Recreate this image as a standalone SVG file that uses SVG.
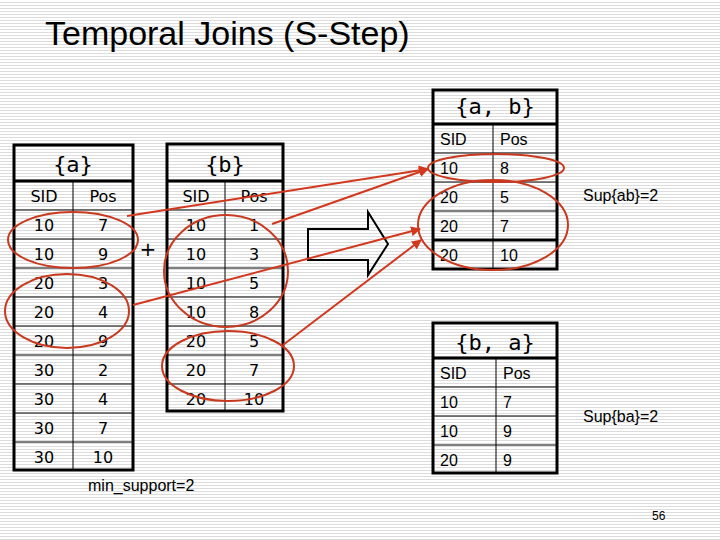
<svg xmlns="http://www.w3.org/2000/svg" width="720" height="540" viewBox="0 0 720 540">
<defs>
<pattern id="st" width="4" height="3" patternUnits="userSpaceOnUse"><rect width="4" height="3" fill="#fff"/><rect y="2" width="4" height="1" fill="#dcdcdc"/></pattern>
<marker id="ah" viewBox="0 0 10 10" refX="9" refY="5" markerWidth="5" markerHeight="5" orient="auto"><path d="M0,0L10,5L0,10z" fill="#d2381e"/></marker>
<style>
.t{fill:none;stroke:#000;stroke-width:3}
.l{stroke:#000;stroke-width:1}
.hd{font-family:"DejaVu Sans Mono",monospace;font-size:22px;text-anchor:middle}
.c{font-family:"DejaVu Sans",sans-serif;font-size:16px;text-anchor:middle}
.r{font-family:"Liberation Sans",sans-serif;font-size:16px}
.e{fill:none;stroke:#c8391f;stroke-width:2}
.a{stroke:#d2381e;stroke-width:2;marker-end:url(#ah)}
</style>
</defs>
<rect width="720" height="540" fill="url(#st)"/>
<text x="45" y="45" font-family="Liberation Sans,sans-serif" font-size="34">Temporal Joins (S-Step)</text>

<g id="ta">
<rect class="t" x="14" y="145" width="119" height="325"/>
<line class="t" x1="14" y1="181" x2="133" y2="181"/>
<line class="l" x1="73" y1="181" x2="73" y2="470"/>
<path class="l" d="M14,210H133M14,239H133M14,268H133M14,297H133M14,326H133M14,355H133M14,384H133M14,413H133M14,442H133"/>
<text class="hd" x="73" y="172">{a}</text>
<g class="c"><text x="44" y="202">SID</text><text x="103" y="202">Pos</text>
<text x="44" y="231">10</text><text x="103" y="231">7</text>
<text x="44" y="260">10</text><text x="103" y="260">9</text>
<text x="44" y="289">20</text><text x="103" y="289">3</text>
<text x="44" y="318">20</text><text x="103" y="318">4</text>
<text x="44" y="347">20</text><text x="103" y="347">9</text>
<text x="44" y="376">30</text><text x="103" y="376">2</text>
<text x="44" y="405">30</text><text x="103" y="405">4</text>
<text x="44" y="434">30</text><text x="103" y="434">7</text>
<text x="44" y="463">30</text><text x="103" y="463">10</text></g>
</g>
<g id="tb">
<rect class="t" x="167" y="144" width="116" height="267"/>
<line class="t" x1="167" y1="181" x2="283" y2="181"/>
<line class="l" x1="225" y1="181" x2="225" y2="411"/>
<path class="l" d="M167,210H283M167,239H283M167,268H283M167,297H283M167,326H283M167,355H283M167,384H283"/>
<text class="hd" x="225" y="172">{b}</text>
<g class="c"><text x="196" y="202">SID</text><text x="254" y="202">Pos</text>
<text x="196" y="231">10</text><text x="254" y="231">1</text>
<text x="196" y="260">10</text><text x="254" y="260">3</text>
<text x="196" y="289">10</text><text x="254" y="289">5</text>
<text x="196" y="318">10</text><text x="254" y="318">8</text>
<text x="196" y="347">20</text><text x="254" y="347">5</text>
<text x="196" y="376">20</text><text x="254" y="376">7</text>
<text x="196" y="405">20</text><text x="254" y="405">10</text></g>
</g>
<text x="148" y="256" font-family="DejaVu Sans,sans-serif" font-size="20" text-anchor="middle">+</text>

<g id="tab">
<rect class="t" x="433" y="90" width="124" height="179"/>
<line class="t" x1="433" y1="124" x2="557" y2="124"/>
<line class="l" x1="493" y1="124" x2="493" y2="269"/>
<path class="l" d="M433,153H557M433,182H557M433,211H557"/><line class="t" x1="433" y1="240" x2="557" y2="240"/>
<text class="hd" x="495" y="114">{a, b}</text>
<g class="r"><text x="440" y="145">SID</text><text x="500" y="145">Pos</text>
<text x="440" y="174">10</text><text x="500" y="174">8</text>
<text x="440" y="203">20</text><text x="500" y="203">5</text>
<text x="440" y="232">20</text><text x="500" y="232">7</text>
<text x="440" y="261">20</text><text x="500" y="261">10</text></g>
</g>
<g id="tba">
<rect class="t" x="433" y="323" width="124" height="150"/>
<line class="t" x1="433" y1="358" x2="557" y2="358"/>
<line class="l" x1="496" y1="358" x2="496" y2="473"/>
<path class="l" d="M433,387H557M433,416H557M433,445H557"/>
<text class="hd" x="495" y="350">{b, a}</text>
<g class="r"><text x="440" y="379">SID</text><text x="503" y="379">Pos</text>
<text x="440" y="408">10</text><text x="503" y="408">7</text>
<text x="440" y="437">10</text><text x="503" y="437">9</text>
<text x="440" y="466">20</text><text x="503" y="466">9</text></g>
</g>

<path id="bigarrow" d="M308,229H368V212L388,244L368,275V260H308z" fill="none" stroke="#000" stroke-width="2"/>

<g id="ellipses">
<ellipse class="e" cx="73" cy="240" rx="65" ry="28"/>
<ellipse class="e" cx="67" cy="311" rx="62" ry="37"/>
<ellipse class="e" cx="226" cy="271" rx="62" ry="56"/>
<ellipse class="e" cx="228" cy="366" rx="66" ry="35"/>
<ellipse class="e" cx="496" cy="168" rx="68" ry="14"/>
<ellipse class="e" cx="493" cy="225" rx="75" ry="45"/>
</g>
<g id="connectors">
<line class="a" x1="127" y1="216" x2="428" y2="169"/>
<line class="a" x1="272" y1="224" x2="428" y2="169"/>
<line class="a" x1="133" y1="305" x2="420" y2="229"/>
<line class="a" x1="283" y1="345" x2="421" y2="240"/>
</g>
<g font-family="Liberation Sans,sans-serif" font-size="16">
<text x="583" y="201">Sup{ab}=2</text>
<text x="583" y="422">Sup{ba}=2</text>
<text x="88" y="491">min_support=2</text>
<text x="652" y="520" font-size="12">56</text>
</g>
</svg>
